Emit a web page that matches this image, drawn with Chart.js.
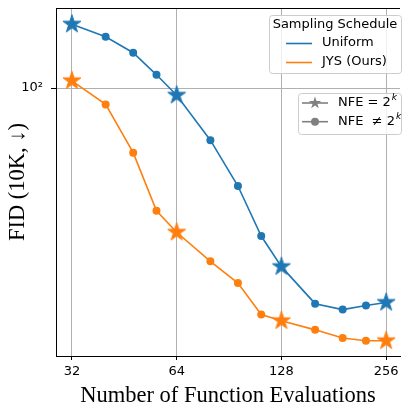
<!DOCTYPE html>
<html>
<head>
<meta charset="utf-8">
<script src="https://cdn.jsdelivr.net/npm/chart.js@4"></script>
<style>
  html, body { margin: 0; padding: 0; background: #fff; }
</style>
</head>
<body>
<canvas id="fid" width="404" height="406"></canvas>
<script>
const nfe = [32, 40, 48, 56, 64, 80, 96, 112, 128, 160, 192, 224, 256];
const uniformFid = [135.5, 127.7, 118.3, 106.5, 96.6, 78.0, 62.7, 49.4, 42.7, 35.8, 34.8, 35.5, 36.0];
const jysFid = [103.5, 92.5, 73.5, 55.7, 50.3, 43.8, 39.5, 34.0, 33.0, 31.6, 30.4, 30.0, 30.0];
const xTicks = [32, 64, 128, 256];
const yTicks = [100];
const yTickLabels = ['10\u00b2'];
const seriesNames = ['Uniform', 'JYS (Ours)'];
const markerNames = ['NFE = 2', 'NFE  \u2260 2'];
const colors = ['#1f77b4', '#ff7f0e'];
const sans = 'DejaVu Sans';
const serif = 'Liberation Serif';

const isPow2 = n => (n & (n - 1)) === 0;

function starPath(ctx, cx, cy, R) {
  const r = R * 0.382;
  ctx.beginPath();
  for (let i = 0; i < 10; i++) {
    const a = -Math.PI / 2 + i * Math.PI / 5;
    const rr = i % 2 ? r : R;
    ctx.lineTo(cx + rr * Math.cos(a), cy + rr * Math.sin(a));
  }
  ctx.closePath();
}

function makeStar(color, R) {
  const c = document.createElement('canvas');
  const s = 2 * Math.ceil(R + 2);
  c.width = s; c.height = s;
  const g = c.getContext('2d');
  starPath(g, s / 2, s / 2, R);
  g.fillStyle = color; g.fill();
  g.strokeStyle = color; g.lineWidth = 1; g.stroke();
  return c;
}

const stars = colors.map(c => makeStar(c, 9.5));

// spine on top + the two legend boxes drawn inside the axes
const frameAndLegends = {
  id: 'frameAndLegends',
  afterDatasetsDraw(chart) {
    const { ctx, chartArea: a } = chart;
    ctx.save();
    ctx.strokeStyle = '#000'; ctx.lineWidth = 1;
    ctx.beginPath(); ctx.moveTo(a.left, a.top + 0.5); ctx.lineTo(a.right, a.top + 0.5); ctx.stroke();

    const box = (x, y, w, h) => {
      ctx.beginPath();
      ctx.roundRect(x + 0.5, y + 0.5, w, h, 3);
      ctx.fillStyle = 'rgba(255,255,255,0.8)'; ctx.fill();
      ctx.strokeStyle = '#cccccc'; ctx.lineWidth = 1; ctx.stroke();
    };
    ctx.textBaseline = 'middle';
    ctx.font = '13px "' + sans + '"';

    // schedule legend
    box(269, 15, 132, 58);
    ctx.fillStyle = '#000'; ctx.textAlign = 'center';
    ctx.fillText('Sampling Schedule', 335, 25);
    ctx.textAlign = 'left';
    seriesNames.forEach((name, i) => {
      const y = 43 + i * 19;
      ctx.strokeStyle = colors[i]; ctx.lineWidth = 1.6;
      ctx.beginPath(); ctx.moveTo(286, y + 0.5); ctx.lineTo(312, y + 0.5); ctx.stroke();
      ctx.fillStyle = '#000'; ctx.fillText(name, 322, y);
    });

    // marker legend
    box(298, 93, 103, 41);
    markerNames.forEach((name, i) => {
      const y = 103 + i * 18.7;
      ctx.strokeStyle = '#808080'; ctx.lineWidth = 1.6;
      ctx.beginPath(); ctx.moveTo(302, y); ctx.lineTo(328, y); ctx.stroke();
      ctx.fillStyle = '#808080';
      if (i === 0) { starPath(ctx, 315, y, 6.5); ctx.fill(); }
      else { ctx.beginPath(); ctx.arc(315, y, 4, 0, Math.PI * 2); ctx.fill(); }
      ctx.fillStyle = '#000';
      ctx.font = '13px "' + sans + '"';
      ctx.fillText(name, 338, y);
      const w = ctx.measureText(name).width;
      ctx.font = 'italic 9px "' + sans + '"';
      ctx.fillText('k', 338 + w + 1, y - 5);
      ctx.font = '13px "' + sans + '"';
    });
    ctx.restore();
  }
};

new Chart(document.getElementById('fid'), {
  type: 'line',
  data: {
    datasets: [uniformFid, jysFid].map((vals, i) => ({
      label: seriesNames[i],
      data: nfe.map((x, j) => ({ x: x, y: vals[j] })),
      borderColor: colors[i],
      backgroundColor: colors[i],
      borderWidth: 1.6,
      tension: 0,
      pointStyle: c => isPow2(nfe[c.dataIndex]) ? stars[i] : 'circle',
      pointRadius: 4,
      pointBorderWidth: 0,
      clip: false
    }))
  },
  options: {
    responsive: false,
    animation: false,
    devicePixelRatio: 1,
    layout: { padding: { top: 8, left: 0, right: 0, bottom: 0 } },
    plugins: { legend: { display: false }, tooltip: { enabled: false } },
    scales: {
      x: {
        type: 'logarithmic',
        min: 28.8, max: 280.6,
        afterBuildTicks: s => { s.ticks = xTicks.map(v => ({ value: v })); },
        afterFit: s => { s.height = 50; s.paddingLeft = 0; s.paddingRight = 0; },
        ticks: {
          callback: v => String(v),
          font: { family: sans, size: 13 }, color: '#000',
          padding: 4, maxRotation: 0, autoSkip: false
        },
        grid: { color: '#b0b0b0', lineWidth: 1, tickLength: 4, tickColor: '#000', tickWidth: 1 },
        border: { color: '#000', width: 1 },
        title: {
          display: true, text: 'Number of Function Evaluations', color: '#000',
          font: { family: serif, size: 22.5, lineHeight: 1 },
          padding: { top: 0, bottom: -1 }
        }
      },
      y: {
        type: 'logarithmic',
        min: 27.9, max: 146.4,
        afterBuildTicks: s => { s.ticks = yTicks.map(v => ({ value: v })); },
        afterFit: s => { s.width = 56; s.paddingTop = 0; s.paddingBottom = 0; },
        ticks: {
          callback: (v, i) => yTickLabels[i],
          font: { family: sans, size: 13 }, color: '#000',
          padding: 8, autoSkip: false
        },
        grid: { color: '#b0b0b0', lineWidth: 1, tickLength: 5, tickColor: '#000', tickWidth: 1 },
        border: { color: '#000', width: 1 },
        title: {
          display: true, text: 'FID (10K, \u2193)', color: '#000',
          font: { family: serif, size: 22.5, lineHeight: 1 },
          padding: { top: 6.5, bottom: 0 }
        }
      }
    }
  },
  plugins: [frameAndLegends]
});
</script>
</body>
</html>
